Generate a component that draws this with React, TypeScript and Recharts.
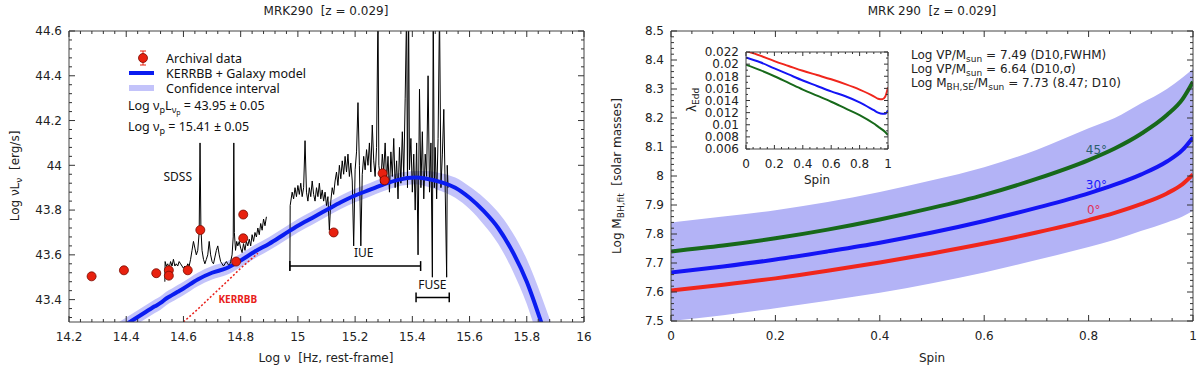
import React from 'react';
import { ComposedChart, Line, Area, Scatter, XAxis, YAxis, ReferenceLine } from 'recharts';

const FONT = "'DejaVu Sans', sans-serif";
const LFONT = "'Noto Sans', sans-serif";

// ---------------- Left panel data ----------------
const archivalFreq = [14.279, 14.392, 14.505, 14.549, 14.549, 14.615, 14.659, 14.784, 14.809, 14.809, 15.125, 15.296, 15.303];
const archivalLum = [43.504, 43.531, 43.518, 43.531, 43.507, 43.531, 43.711, 43.57, 43.78, 43.674, 43.70, 43.964, 43.933];

const modelFreq = [14.35, 14.4, 14.45, 14.5, 14.52, 14.54, 14.56, 14.58, 14.6, 14.65, 14.7, 14.75, 14.8, 14.85, 14.9, 14.95, 15.0, 15.05, 15.1, 15.15, 15.2, 15.25, 15.3, 15.35, 15.41, 15.45, 15.5, 15.55, 15.6, 15.65, 15.7, 15.75, 15.8, 15.85, 15.9];
const modelLum = [43.25, 43.29, 43.33, 43.37, 43.385, 43.405, 43.42, 43.435, 43.45, 43.49, 43.52, 43.54, 43.575, 43.615, 43.65, 43.69, 43.73, 43.765, 43.80, 43.835, 43.865, 43.89, 43.915, 43.935, 43.945, 43.94, 43.925, 43.9, 43.855, 43.795, 43.72, 43.615, 43.48, 43.3, 43.1];
const modelBandHalf = [0.03, 0.03, 0.03, 0.03, 0.03, 0.03, 0.03, 0.03, 0.03, 0.03, 0.03, 0.03, 0.03, 0.03, 0.03, 0.03, 0.03, 0.03, 0.03, 0.03, 0.03, 0.03, 0.03, 0.03, 0.03, 0.035, 0.04, 0.045, 0.05, 0.06, 0.07, 0.085, 0.1, 0.12, 0.14];

const kerrFreq = [14.6, 14.65, 14.7, 14.75, 14.8, 14.86];
const kerrLum = [43.3, 43.357, 43.418, 43.478, 43.54, 43.607];

const opticalSpec: [number, number][] = [
  [14.535, 43.48], [14.536, 43.57], [14.54, 43.55], [14.545, 43.56], [14.55, 43.54], [14.555, 43.57], [14.56, 43.55], [14.565, 43.58], [14.57, 43.55], [14.575, 43.56], [14.58, 43.55], [14.585, 43.57], [14.59, 43.56], [14.595, 43.55], [14.6, 43.54], [14.605, 43.55], [14.61, 43.54], [14.615, 43.56], [14.62, 43.55], [14.625, 43.58], [14.63, 43.62], [14.635, 43.66], [14.64, 43.63], [14.645, 43.6], [14.65, 43.62], [14.655, 43.7], [14.658, 44.1], [14.661, 43.72], [14.665, 43.62], [14.67, 43.58], [14.675, 43.56], [14.68, 43.58], [14.685, 43.6], [14.69, 43.66], [14.695, 43.6], [14.7, 43.57], [14.705, 43.56], [14.71, 43.59], [14.715, 43.62], [14.72, 43.64], [14.725, 43.6], [14.73, 43.57], [14.735, 43.56], [14.74, 43.55], [14.745, 43.56], [14.75, 43.57], [14.755, 43.56], [14.76, 43.55], [14.765, 43.57], [14.77, 43.6], [14.774, 43.68], [14.776, 44.1], [14.778, 43.7], [14.782, 43.62], [14.786, 43.66], [14.79, 43.64], [14.795, 43.66], [14.8, 43.63], [14.805, 43.61], [14.81, 43.65], [14.815, 43.62], [14.82, 43.66], [14.825, 43.64], [14.83, 43.67], [14.835, 43.64], [14.84, 43.69], [14.845, 43.66], [14.85, 43.7], [14.855, 43.68], [14.86, 43.72], [14.865, 43.69], [14.87, 43.74], [14.875, 43.71], [14.88, 43.76], [14.885, 43.73], [14.89, 43.77],
];

const uvSpec: [number, number][] = [
  [14.972, 43.53], [14.973, 43.82], [14.98, 43.88], [14.985, 43.85], [14.99, 43.9], [14.995, 43.86], [15.0, 43.91], [15.005, 43.87], [15.01, 43.92], [15.015, 43.86], [15.02, 43.9], [15.025, 44.11], [15.03, 43.88], [15.035, 43.84], [15.04, 43.9], [15.045, 43.86], [15.05, 43.93], [15.055, 43.87], [15.06, 43.84], [15.065, 43.9], [15.07, 43.86], [15.075, 43.92], [15.08, 43.85], [15.085, 43.89], [15.09, 43.84], [15.095, 43.88], [15.1, 43.82], [15.105, 43.86], [15.11, 43.71], [15.115, 43.84], [15.12, 43.9], [15.125, 43.87], [15.13, 43.93], [15.135, 43.97], [15.14, 43.91], [15.145, 44.0], [15.15, 43.94], [15.155, 44.02], [15.16, 43.96], [15.165, 44.04], [15.17, 43.97], [15.175, 44.05], [15.18, 43.95], [15.185, 44.01], [15.19, 43.93], [15.195, 43.64], [15.2, 43.98], [15.205, 44.06], [15.21, 44.28], [15.215, 44.0], [15.22, 43.64], [15.225, 43.96], [15.23, 44.04], [15.235, 43.98], [15.24, 44.07], [15.245, 44.0], [15.25, 44.1], [15.255, 43.97], [15.26, 44.18], [15.265, 44.02], [15.27, 43.95], [15.275, 44.08], [15.28, 44.7], [15.283, 44.0], [15.29, 43.92], [15.295, 44.05], [15.3, 43.97], [15.305, 44.1], [15.31, 43.93], [15.315, 44.04], [15.32, 43.88], [15.325, 44.06], [15.33, 43.95], [15.335, 44.12], [15.34, 43.9], [15.345, 44.02], [15.35, 43.85], [15.355, 44.08], [15.36, 43.92], [15.365, 44.15], [15.37, 43.95], [15.375, 44.3], [15.38, 44.7], [15.383, 43.9], [15.387, 44.7], [15.39, 43.98], [15.395, 44.12], [15.4, 43.88], [15.405, 44.05], [15.41, 43.8], [15.415, 44.1], [15.42, 43.6], [15.425, 44.34], [15.43, 43.9], [15.435, 44.15], [15.44, 43.85], [15.445, 44.05], [15.45, 43.95], [15.455, 44.4], [15.46, 43.88], [15.465, 44.1], [15.47, 43.5], [15.473, 44.7], [15.477, 43.9], [15.48, 44.08], [15.485, 43.85], [15.49, 44.12], [15.495, 44.7], [15.5, 43.9], [15.505, 44.05], [15.51, 44.25], [15.515, 43.88], [15.52, 43.5], [15.522, 44.0], [15.525, 43.9],
];

const leftLabelText = ['SDSS', 'IUE', 'FUSE', 'KERRBB'];
const leftLabelFreq = [14.58, 15.23, 15.47, 14.79];
const leftLabelLum = [43.95, 43.61, 43.465, 43.40];

const iueRange = [14.972, 15.429];
const iueLevel = 43.55;
const fuseRange = [15.413, 15.529];
const fuseLevel = 43.41;

// ---------------- Right panel data ----------------
const spin = [0, 0.1, 0.2, 0.3, 0.4, 0.5, 0.6, 0.7, 0.8, 0.85, 0.9, 0.95, 0.98, 1.0];
const massRed = [7.605, 7.625, 7.647, 7.673, 7.702, 7.733, 7.767, 7.805, 7.848, 7.873, 7.903, 7.94, 7.972, 8.005];
const massBlue = [7.667, 7.688, 7.712, 7.74, 7.77, 7.805, 7.845, 7.89, 7.94, 7.97, 8.005, 8.05, 8.09, 8.133];
const massGreen = [7.74, 7.76, 7.785, 7.815, 7.85, 7.89, 7.935, 7.99, 8.055, 8.095, 8.145, 8.21, 8.265, 8.325];
const massLow = [7.5, 7.52, 7.544, 7.57, 7.597, 7.63, 7.667, 7.71, 7.755, 7.78, 7.81, 7.84, 7.86, 7.88];
const massHigh = [7.84, 7.86, 7.882, 7.91, 7.945, 7.985, 8.03, 8.09, 8.165, 8.2, 8.25, 8.3, 8.34, 8.37];

const angleText = ['45°', '30°', '0°'];
const angleSpin = [0.815, 0.815, 0.81];
const angleMass = [8.09, 7.97, 7.883];

const insetSpin = [0, 0.1, 0.2, 0.3, 0.4, 0.5, 0.6, 0.7, 0.8, 0.9, 0.93, 0.96, 0.98, 1.0];
const eddRed = [0.0222, 0.0214, 0.0205, 0.0197, 0.0189, 0.0182, 0.0175, 0.0167, 0.0158, 0.0147, 0.0143, 0.0142, 0.0146, 0.0162];
const eddBlue = [0.0211, 0.0203, 0.0193, 0.0183, 0.0173, 0.0164, 0.0155, 0.0147, 0.0137, 0.0124, 0.0120, 0.0118, 0.0118, 0.0124];
const eddGreen = [0.0199, 0.019, 0.018, 0.0169, 0.0158, 0.0148, 0.0138, 0.0127, 0.0116, 0.0102, 0.0097, 0.0092, 0.0088, 0.0083];

// ---------------- Tables ----------------
const archivalData = archivalFreq.map((x, i) => ({ x, y: archivalLum[i] }));
const modelData = modelFreq.map((x, i) => ({ x, y: modelLum[i] }));
const bandData = modelFreq.map((x, i) => ({ x, band: [modelLum[i] - modelBandHalf[i], modelLum[i] + modelBandHalf[i]] }));
const kerrData = kerrFreq.map((x, i) => ({ x, y: kerrLum[i] }));
const opticalData = opticalSpec.map(([x, y]) => ({ x, y }));
const uvData = uvSpec.map(([x, y]) => ({ x, y }));
const leftLabels = leftLabelText.map((label, i) => ({ x: leftLabelFreq[i], y: leftLabelLum[i], label }));

const massData = spin.map((s, i) => ({ s, band: [massLow[i], massHigh[i]], red: massRed[i], blue: massBlue[i], green: massGreen[i] }));
const angleLabels = angleText.map((label, i) => ({ s: angleSpin[i], y: angleMass[i], label }));
const insetData = insetSpin.map((s, i) => ({ s, r: eddRed[i], b: eddBlue[i], g: eddGreen[i] }));

// ---------------- Helpers ----------------
function range(a: number, b: number, step: number) {
  const out: number[] = [];
  const n = Math.round((b - a) / step);
  for (let i = 0; i <= n; i++) out.push(Math.round((a + i * step) * 1e6) / 1e6);
  return out;
}
const fmt = (v: number) => String(Math.round(v * 1e6) / 1e6);

type Side = 'bottom' | 'top' | 'left' | 'right';
function tickFn(side: Side, majors: number[], labels: boolean, majorLen: number, minorLen: number, fontSize = 12) {
  return (props: any) => {
    const x = Number(props.x);
    const y = Number(props.y);
    const v = props.payload.value;
    const isMajor = majors.some((m) => Math.abs(m - v) < 1e-7);
    const len = isMajor ? majorLen : minorLen;
    let x2 = x, y2 = y;
    if (side === 'bottom') y2 = y - len;
    else if (side === 'top') y2 = y + len;
    else if (side === 'left') x2 = x + len;
    else x2 = x - len;
    let label: any = null;
    if (labels && isMajor && side === 'bottom') {
      label = <text x={x} y={y + fontSize * 1.6} textAnchor="middle" fontFamily={FONT} fontSize={fontSize} fill="#222">{fmt(v)}</text>;
    } else if (labels && isMajor && side === 'left') {
      label = <text x={x - 7} y={y + fontSize * 0.36} textAnchor="end" fontFamily={FONT} fontSize={fontSize} fill="#222">{fmt(v)}</text>;
    }
    return (
      <g>
        <line x1={x} y1={y} x2={x2} y2={y2} stroke="#333" strokeWidth={1} />
        {label}
      </g>
    );
  };
}

const AX = { stroke: '#444', strokeWidth: 1 };

const lxAll = range(14.2, 16, 0.04), lxMaj = range(14.2, 16, 0.2);
const lyAll = range(43.32, 44.6, 0.04), lyMaj = range(43.4, 44.6, 0.2);
const rxAll = range(0, 1, 0.04), rxMaj = range(0, 1, 0.2);
const ryAll = range(7.5, 8.5, 0.02), ryMaj = range(7.5, 8.5, 0.1);
const ixAll = range(0, 1, 0.05), ixMaj = range(0, 1, 0.2);
const iyAll = range(0.006, 0.022, 0.001), iyMaj = range(0.006, 0.022, 0.002);

const RedDot = (p: any) => (
  <circle cx={p.cx} cy={p.cy} r={4.5} fill="#e8210f" stroke="#7a0a00" strokeWidth={0.8} />
);

const leftLabelStyle: Record<string, any> = {
  SDSS: { fill: '#111', fontSize: 12, fontWeight: 400 },
  IUE: { fill: '#111', fontSize: 12, fontWeight: 400 },
  FUSE: { fill: '#111', fontSize: 12, fontWeight: 400 },
  KERRBB: { fill: '#e8201a', fontSize: 10, fontWeight: 700 },
};
const LeftLabel = (p: any) => {
  const s = leftLabelStyle[p.payload.label];
  return (
    <text x={p.cx} y={p.cy} dy="0.35em" textAnchor="middle" fontFamily={LFONT} fontSize={s.fontSize} fontWeight={s.fontWeight} fill={s.fill}>
      {p.payload.label}
    </text>
  );
};
const angleColor: Record<string, string> = { '45°': '#2b5f6e', '30°': '#1a1aff', '0°': '#e0305a' };
const AngleLabel = (p: any) => (
  <text x={p.cx} y={p.cy} dy="0.35em" textAnchor="middle" fontFamily={FONT} fontSize={12} fill={angleColor[p.payload.label]}>
    {p.payload.label}
  </text>
);

function LeftChart() {
  return (
    <ComposedChart width={600} height={368} margin={{ top: 21, right: 6, bottom: 16, left: 29 }}>
      <Area data={bandData} dataKey="band" type="monotone" fill="#c3c3fa" fillOpacity={1} stroke="none" isAnimationActive={false} />
      <Line data={opticalData} dataKey="y" type="linear" stroke="#000" strokeWidth={1} dot={false} isAnimationActive={false} />
      <Line data={uvData} dataKey="y" type="linear" stroke="#000" strokeWidth={1} dot={false} isAnimationActive={false} />
      <Line data={kerrData} dataKey="y" type="linear" stroke="#e8201a" strokeWidth={1.5} strokeDasharray="2 2" dot={false} isAnimationActive={false} />
      <Line data={modelData} dataKey="y" type="monotone" stroke="#0a1cf0" strokeWidth={4} dot={false} isAnimationActive={false} />
      <ReferenceLine segment={[{ x: iueRange[0], y: iueLevel }, { x: iueRange[1], y: iueLevel }]} stroke="#000" strokeWidth={1.5} />
      <ReferenceLine segment={[{ x: iueRange[0], y: iueLevel - 0.022 }, { x: iueRange[0], y: iueLevel + 0.022 }]} stroke="#000" strokeWidth={1.5} />
      <ReferenceLine segment={[{ x: iueRange[1], y: iueLevel - 0.022 }, { x: iueRange[1], y: iueLevel + 0.022 }]} stroke="#000" strokeWidth={1.5} />
      <ReferenceLine segment={[{ x: fuseRange[0], y: fuseLevel }, { x: fuseRange[1], y: fuseLevel }]} stroke="#000" strokeWidth={1.5} />
      <ReferenceLine segment={[{ x: fuseRange[0], y: fuseLevel - 0.022 }, { x: fuseRange[0], y: fuseLevel + 0.022 }]} stroke="#000" strokeWidth={1.5} />
      <ReferenceLine segment={[{ x: fuseRange[1], y: fuseLevel - 0.022 }, { x: fuseRange[1], y: fuseLevel + 0.022 }]} stroke="#000" strokeWidth={1.5} />
      <Scatter data={archivalData} dataKey="y" shape={RedDot} isAnimationActive={false} />
      <Scatter data={leftLabels} dataKey="y" shape={LeftLabel} isAnimationActive={false} />
      <XAxis xAxisId={0} dataKey="x" type="number" domain={[14.2, 16]} allowDataOverflow ticks={lxAll} interval={0} tickSize={0} tickMargin={0} height={30} axisLine={AX} tickLine={false} tick={tickFn('bottom', lxMaj, true, 6, 3)} />
      <XAxis xAxisId="t" orientation="top" dataKey="x" type="number" domain={[14.2, 16]} allowDataOverflow ticks={lxAll} interval={0} tickSize={0} tickMargin={0} height={10} axisLine={AX} tickLine={false} tick={tickFn('top', lxMaj, false, 6, 3)} />
      <YAxis yAxisId={0} type="number" domain={[43.3, 44.6]} allowDataOverflow ticks={lyAll} interval={0} tickSize={0} tickMargin={0} width={40} axisLine={AX} tickLine={false} tick={tickFn('left', lyMaj, true, 6, 3)} />
      <YAxis yAxisId="r" orientation="right" type="number" domain={[43.3, 44.6]} allowDataOverflow ticks={lyAll} interval={0} tickSize={0} tickMargin={0} width={10} axisLine={AX} tickLine={false} tick={tickFn('right', lyMaj, false, 6, 3)} />
    </ComposedChart>
  );
}

function RightChart() {
  return (
    <ComposedChart width={600} height={368} data={massData} margin={{ top: 21, right: 2, bottom: 17, left: 31 }}>
      <Area dataKey="band" type="monotone" fill="#b3b3f6" fillOpacity={1} stroke="none" isAnimationActive={false} />
      <Line dataKey="red" type="monotone" stroke="#f0261c" strokeWidth={4} dot={false} isAnimationActive={false} />
      <Line dataKey="blue" type="monotone" stroke="#1414f5" strokeWidth={4} dot={false} isAnimationActive={false} />
      <Line dataKey="green" type="monotone" stroke="#17691a" strokeWidth={4} dot={false} isAnimationActive={false} />
      <Scatter data={angleLabels} dataKey="y" shape={AngleLabel} isAnimationActive={false} />
      <XAxis xAxisId={0} dataKey="s" type="number" domain={[0, 1]} allowDataOverflow ticks={rxAll} interval={0} tickSize={0} tickMargin={0} height={30} axisLine={AX} tickLine={false} tick={tickFn('bottom', rxMaj, true, 6, 3)} />
      <XAxis xAxisId="t" orientation="top" dataKey="s" type="number" domain={[0, 1]} allowDataOverflow ticks={rxAll} interval={0} tickSize={0} tickMargin={0} height={10} axisLine={AX} tickLine={false} tick={tickFn('top', rxMaj, false, 6, 3)} />
      <YAxis yAxisId={0} type="number" domain={[7.5, 8.5]} allowDataOverflow ticks={ryAll} interval={0} tickSize={0} tickMargin={0} width={40} axisLine={AX} tickLine={false} tick={tickFn('left', ryMaj, true, 6, 3)} />
      <YAxis yAxisId="r" orientation="right" type="number" domain={[7.5, 8.5]} allowDataOverflow ticks={ryAll} interval={0} tickSize={0} tickMargin={0} width={5} axisLine={AX} tickLine={false} tick={tickFn('right', ryMaj, false, 6, 3)} />
    </ComposedChart>
  );
}

function InsetChart() {
  return (
    <ComposedChart width={210} height={150} data={insetData} margin={{ top: 7, right: 7, bottom: 16, left: 16 }}>
      <Line dataKey="r" type="monotone" stroke="#f0261c" strokeWidth={2} dot={false} isAnimationActive={false} />
      <Line dataKey="b" type="monotone" stroke="#1414f5" strokeWidth={2} dot={false} isAnimationActive={false} />
      <Line dataKey="g" type="monotone" stroke="#17691a" strokeWidth={2} dot={false} isAnimationActive={false} />
      <XAxis xAxisId={0} dataKey="s" type="number" domain={[0, 1]} allowDataOverflow ticks={ixAll} interval={0} tickSize={0} tickMargin={0} height={25} axisLine={AX} tickLine={false} tick={tickFn('bottom', ixMaj, true, 4, 2)} />
      <XAxis xAxisId="t" orientation="top" dataKey="s" type="number" domain={[0, 1]} allowDataOverflow ticks={ixAll} interval={0} tickSize={0} tickMargin={0} height={5} axisLine={AX} tickLine={false} tick={tickFn('top', ixMaj, false, 4, 2)} />
      <YAxis yAxisId={0} type="number" domain={[0.006, 0.022]} allowDataOverflow ticks={iyAll} interval={0} tickSize={0} tickMargin={0} width={40} axisLine={AX} tickLine={false} tick={tickFn('left', iyMaj, true, 4, 2)} />
      <YAxis yAxisId="r" orientation="right" type="number" domain={[0.006, 0.022]} allowDataOverflow ticks={iyAll} interval={0} tickSize={0} tickMargin={0} width={5} axisLine={AX} tickLine={false} tick={tickFn('right', iyMaj, false, 4, 2)} />
    </ComposedChart>
  );
}

function Overlay() {
  const T = { fontFamily: FONT, fontSize: 12, fill: '#222', style: { whiteSpace: 'pre' as const } };
  const L = { fontFamily: LFONT, fontSize: 12.5, fill: '#111', style: { whiteSpace: 'pre' as const } };
  return (
    <svg width={1200} height={368} style={{ position: 'absolute', left: 0, top: 0, pointerEvents: 'none' }}>
      <text x={326} y={14.5} textAnchor="middle" {...T}>MRK290  [z = 0.029]</text>
      <text x={932} y={14.5} textAnchor="middle" {...T}>MRK 290  [z = 0.029]</text>
      <text x={326} y={362} textAnchor="middle" {...T}>Log ν  [Hz, rest-frame]</text>
      <text x={932} y={362} textAnchor="middle" {...T}>Spin</text>
      <text transform="translate(19,176) rotate(-90)" textAnchor="middle" {...T}>
        Log νL<tspan dy={3} fontSize={9}>ν</tspan><tspan dy={-3}>  [erg/s]</tspan>
      </text>
      <text transform="translate(621,176) rotate(-90)" textAnchor="middle" {...T}>
        Log M<tspan dy={3} fontSize={9}>BH,fit</tspan><tspan dy={-3}>  [solar masses]</tspan>
      </text>
      <line x1={143} y1={51} x2={143} y2={65} stroke="#e8210f" strokeWidth={1} />
      <line x1={140} y1={51} x2={146} y2={51} stroke="#e8210f" strokeWidth={1} />
      <line x1={140} y1={65} x2={146} y2={65} stroke="#e8210f" strokeWidth={1} />
      <circle cx={143} cy={58} r={4.5} fill="#e8210f" stroke="#7a0a00" strokeWidth={0.8} />
      <text x={166} y={62.5} {...L}>Archival data</text>
      <rect x={129} y={71} width={25} height={4} fill="#0a1cf0" />
      <text x={166} y={77.5} {...L}>KERRBB + Galaxy model</text>
      <rect x={129} y={85} width={25} height={6} fill="#c3c3fa" />
      <text x={166} y={92.5} {...L}>Confidence interval</text>
      <text x={128} y={110} {...L}>
        Log ν<tspan dy={3} fontSize={9}>p</tspan><tspan dy={-3}>L</tspan><tspan dy={3} fontSize={9}>ν</tspan><tspan dy={2} fontSize={7}>p</tspan><tspan dy={-5}> = 43.95 ± 0.05</tspan>
      </text>
      <text x={128} y={131} {...L}>
        Log ν<tspan dy={3} fontSize={9}>p</tspan><tspan dy={-3}> = 15.41 ± 0.05</tspan>
      </text>
      <text x={911} y={59} {...T}>
        Log VP/M<tspan dy={3} fontSize={9}>sun</tspan><tspan dy={-3}> = 7.49 (D10,FWHM)</tspan>
      </text>
      <text x={911} y={73} {...T}>
        Log VP/M<tspan dy={3} fontSize={9}>sun</tspan><tspan dy={-3}> = 6.64 (D10,σ)</tspan>
      </text>
      <text x={911} y={87} {...T}>
        Log M<tspan dy={3} fontSize={9}>BH,SE</tspan><tspan dy={-3}>/M</tspan><tspan dy={3} fontSize={9}>sun</tspan><tspan dy={-3}> = 7.73 (8.47; D10)</tspan>
      </text>
      <text x={817} y={184} textAnchor="middle" {...T}>Spin</text>
      <text transform="translate(696,100) rotate(-90)" textAnchor="middle" {...T}>
        λ<tspan dy={3} fontSize={9}>Edd</tspan>
      </text>
    </svg>
  );
}

export default function App() {
  return (
    <div style={{ position: 'absolute', left: 0, top: 0, width: 1200, height: 368, background: '#fff', overflow: 'hidden' }}>
      <div style={{ position: 'absolute', left: 0, top: 0 }}><LeftChart /></div>
      <div style={{ position: 'absolute', left: 600, top: 0 }}><RightChart /></div>
      <div style={{ position: 'absolute', left: 690, top: 40 }}><InsetChart /></div>
      <Overlay />
    </div>
  );
}
